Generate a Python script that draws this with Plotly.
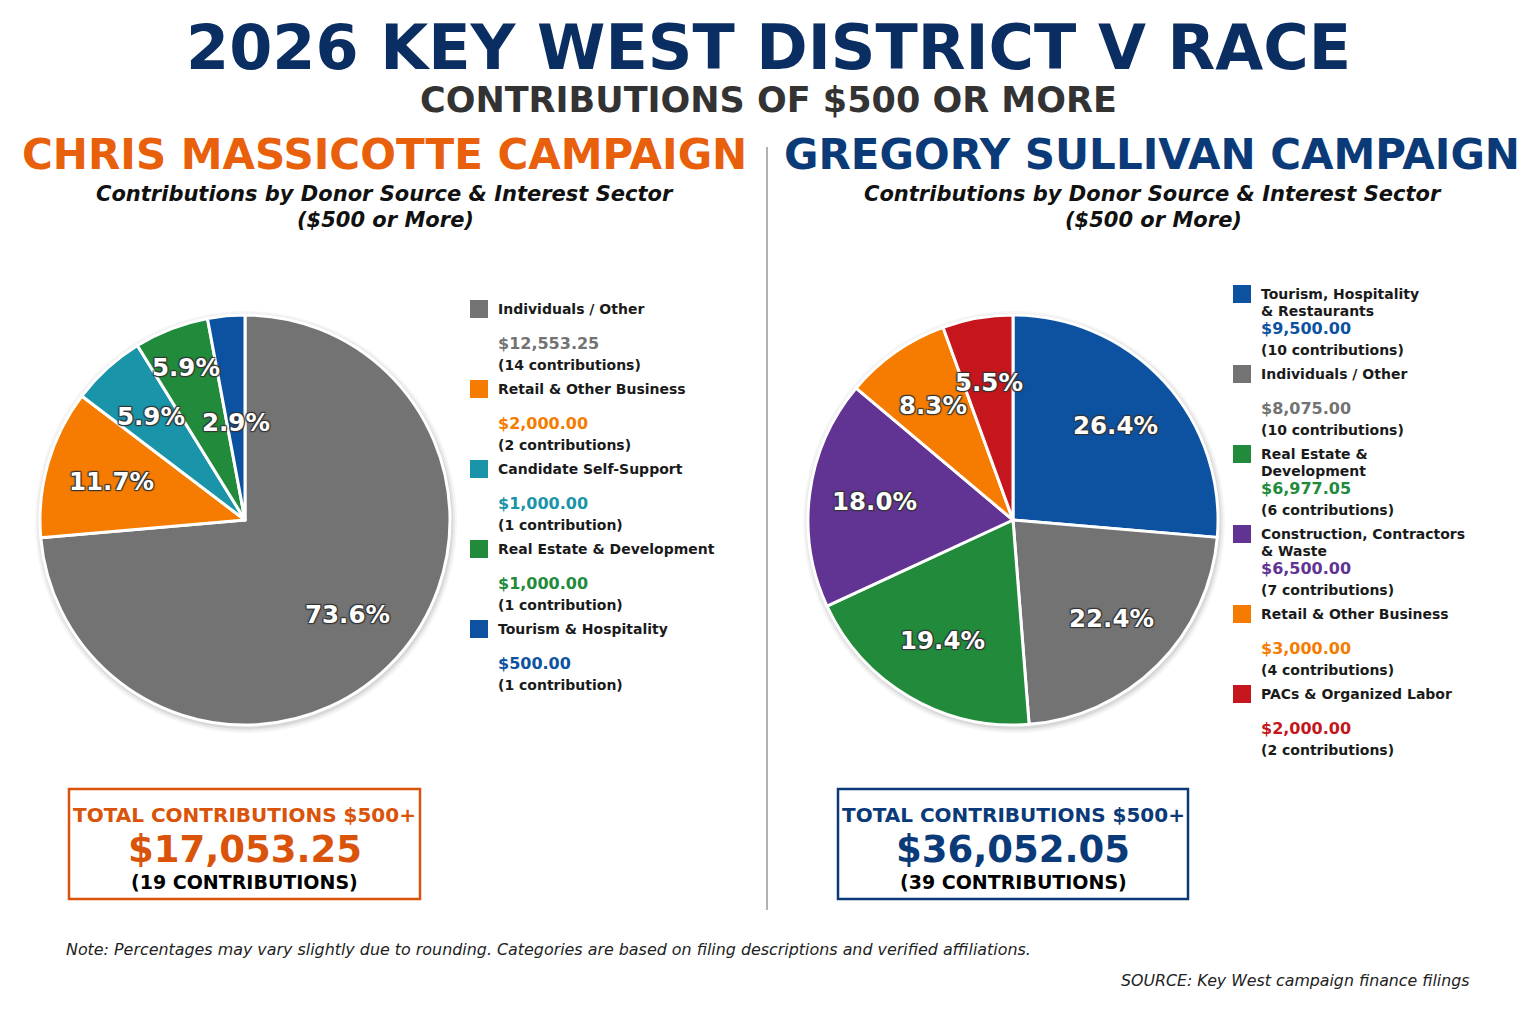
import math
import plotly.graph_objects as go

W, H = 1536, 1024
OFF = 8  # page body margin of the browser

# ---------------- data ----------------
left_labels = ["Individuals / Other", "Retail & Other Business", "Candidate Self-Support",
               "Real Estate & Development", "Tourism & Hospitality"]
left_values = [12553.25, 2000.00, 1000.00, 1000.00, 500.00]
left_counts = [14, 2, 1, 1, 1]
left_colors = ["#737373", "#f57c00", "#1a94a8", "#228b3b", "#0d52a1"]

right_labels = ["Tourism, Hospitality<br>& Restaurants", "Individuals / Other",
                "Real Estate &<br>Development", "Construction, Contractors<br>& Waste",
                "Retail & Other Business", "PACs & Organized Labor"]
right_values = [9500.00, 8075.00, 6977.05, 6500.00, 3000.00, 2000.00]
right_counts = [10, 10, 6, 7, 4, 2]
right_colors = ["#0d52a1", "#737373", "#228b3b", "#613393", "#f57c00", "#c4161c"]

# label distance from centre (fraction of radius) per slice – style only
left_label_dist = [0.68, 0.68, 0.68, 0.80, 0.48]
right_label_dist = [0.68] * 6

left_total = sum(left_values)
right_total = sum(right_values)
left_ncontrib = sum(left_counts)
right_ncontrib = sum(right_counts)

FONT = "DejaVu Sans"
NAVY = "#0a2d62"
ORANGE_H = "#e8600c"
ORANGE_BOX = "#d9540a"
NAVY_H = "#0b3a78"


def px(x):
    return (x - OFF) / W


def py(y):
    return 1 - (y - OFF) / H


fig = go.Figure()
ann = []
shapes = []

shadow = "1px 1px 1px #333, -1px -1px 1px #333, 1px -1px 1px #333, -1px 1px 1px #333"


def text(x, y, s, size, color, bold=True, italic=False, xanchor="center", yanchor="middle",
         shadow_=None):
    if bold:
        s = "<b>" + s + "</b>"
    if italic:
        s = "<i>" + s + "</i>"
    f = dict(family=FONT, size=size, color=color)
    if shadow_:
        f["shadow"] = shadow_
    if xanchor == "left":
        x -= 2
    elif xanchor == "right":
        x += 2
    ann.append(dict(x=px(x), y=py(y), xref="paper", yref="paper", text=s, showarrow=False,
                    xanchor=xanchor, yanchor=yanchor, font=f))


CY, R = 520, 205


def add_pie(values, labels, colors, cx, dists):
    # soft shadow behind the pie
    for k, a in ((6, 0.035), (4, 0.05), (2, 0.07)):
        shapes.append(dict(type="circle", xref="paper", yref="paper", layer="below",
                           x0=px(cx - R - k + 1), x1=px(cx + R + k + 1),
                           y0=py(CY + R + k + 2), y1=py(CY - R - k + 2),
                           fillcolor=f"rgba(0,0,0,{a})", line=dict(width=0)))
    fig.add_trace(go.Pie(
        values=values,
        labels=[l.replace("<br>", " ") for l in labels],
        marker=dict(colors=colors, line=dict(color="white", width=3)),
        sort=False,
        direction="clockwise",
        rotation=0,
        textinfo="none",
        hoverinfo="skip",
        showlegend=False,
        domain=dict(x=[px(cx - R), px(cx + R)], y=[py(CY + R), py(CY - R)]),
    ))
    total = sum(values)
    cum = 0.0
    for v, d in zip(values, dists):
        mid = (cum + v / 2) / total * 2 * math.pi
        cum += v
        x = cx + d * R * math.sin(mid)
        y = CY - d * R * math.cos(mid)
        text(x, y, f"{v / total * 100:.1f}%", 24.5, "white", shadow_=shadow)


add_pie(left_values, left_labels, left_colors, 245, left_label_dist)
add_pie(right_values, right_labels, right_colors, 1013, right_label_dist)

# titles
text(768, 47, "2026 KEY WEST DISTRICT V RACE", 62, NAVY)
text(768, 100, "CONTRIBUTIONS OF $500 OR MORE", 35, "#333333")
text(384, 154, "CHRIS MASSICOTTE CAMPAIGN", 42, ORANGE_H)
text(1152, 154, "GREGORY SULLIVAN CAMPAIGN", 42, NAVY_H)
for cx in (385, 1153):
    text(cx, 194, "Contributions by Donor Source & Interest Sector", 21, "#111111", italic=True)
    text(cx, 220, "($500 or More)", 21, "#111111", italic=True)

# divider
shapes.append(dict(type="line", xref="paper", yref="paper", x0=px(767), x1=px(767),
                   y0=py(147), y1=py(910), line=dict(color="#999999", width=1.5)))


# custom legends
def legend(labels, values, counts, colors, sx, y0):
    for i, (lab, v, c, col) in enumerate(zip(labels, values, counts, colors)):
        yc = y0 + 80 * i
        shapes.append(dict(type="rect", xref="paper", yref="paper",
                           x0=px(sx), x1=px(sx + 18), y0=py(yc + 9), y1=py(yc - 9),
                           fillcolor=col, line=dict(width=0)))
        for j, line in enumerate(lab.split("<br>")):
            text(sx + 28, yc + 17 * j, line, 14, "#1a1a1a", xanchor="left")
        text(sx + 28, yc + 34, f"${v:,.2f}", 16, col, xanchor="left")
        word = "contribution" if c == 1 else "contributions"
        text(sx + 28, yc + 56, f"({c} {word})", 14, "#1a1a1a", xanchor="left")


legend(left_labels, left_values, left_counts, left_colors, 470, 309)
legend(right_labels, right_values, right_counts, right_colors, 1233, 294)


# totals boxes
def total_box(x0, x1, total, n, col):
    shapes.append(dict(type="rect", xref="paper", yref="paper",
                       x0=px(x0), x1=px(x1), y0=py(899), y1=py(789),
                       fillcolor="white", line=dict(color=col, width=2.5)))
    cx = (x0 + x1) / 2
    text(cx, 815, "TOTAL CONTRIBUTIONS $500+", 20, col)
    text(cx, 849, f"${total:,.2f}", 37, col)
    text(cx, 882, f"({n} CONTRIBUTIONS)", 19, "#000000")


total_box(69, 420, left_total, left_ncontrib, ORANGE_BOX)
total_box(838, 1188, right_total, right_ncontrib, NAVY_H)

# footer
text(66, 949, "Note: Percentages may vary slightly due to rounding. Categories are based on "
     "filing descriptions and verified affiliations.", 15.9, "#222222", bold=False, italic=True,
     xanchor="left")
text(1470, 980, "SOURCE: Key West campaign finance filings", 15.8, "#222222", bold=False,
     italic=True, xanchor="right")

fig.update_layout(
    width=W, height=H,
    margin=dict(l=0, r=0, t=0, b=0),
    paper_bgcolor="white", plot_bgcolor="white",
    annotations=ann, shapes=shapes,
    font=dict(family=FONT),
)

fig.write_html("out.html")
